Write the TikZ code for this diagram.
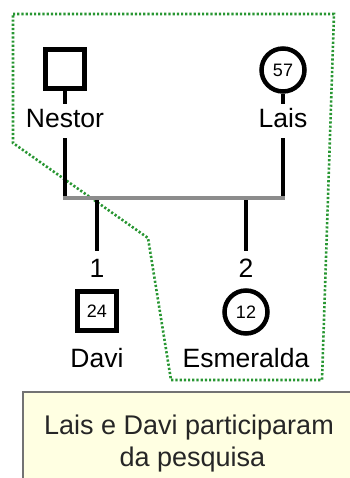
\documentclass[tikz,border=0pt]{standalone}
\usepackage{fontspec}
\setmainfont{Liberation Sans}
\usetikzlibrary{positioning}
\definecolor{dotgreen}{RGB}{40,150,50}
\definecolor{notefill}{RGB}{255,255,226}

\begin{document}
\begin{tikzpicture}[x=1pt, y=-1pt,
    every node/.style={font=\fontsize{26.5}{29}\selectfont},
    male/.style={draw, rectangle, line width=4.5pt, minimum size=39pt, inner sep=0pt, font=\fontsize{18}{20}\selectfont},
    female/.style={draw, circle, line width=4.5pt, minimum size=43pt, inner sep=0pt, font=\fontsize{18}{20}\selectfont},
    pname/.style={text height=19pt, text depth=5pt, inner sep=5pt},
    nr/.style={text height=19pt, text depth=0pt, inner sep=7pt},
    link/.style={line width=4.5pt, black},
    sibship/.style={line width=4pt, black!45},
    group/.style={line width=2.6pt, dotgreen, dash pattern=on 2.2pt off 2pt},
    note/.style={draw=black!55, line width=1.5pt, fill=notefill},
    notetext/.style={anchor=base, text=black!85, font=\fontsize{27}{30}\selectfont}
  ]
    % feste Bildgroesse wie Vorlage
    \useasboundingbox (0,0) rectangle (349,478);

    % Gruppe (gepunktet)
    \draw[group] (13,14) -- (334,14) -- (322,380) -- (171,380) -- (148,238) -- (13,143) -- cycle;

    % Eltern
    \node[male] (nestor) at (65,69) {};
    \node[female] (lais) at (283,70) {57};
    \node[pname] (nestorname) at (65,121) {Nestor};
    \node[pname] (laisname) at (283,121) {Lais};

    % Geschwisterlinie
    \coordinate (bl) at (63,198);
    \coordinate (br) at (285,198);
    \coordinate (c1) at (97,198);
    \coordinate (c2) at (246,198);

    % Kinder
    \node[nr] (nr1) at (97,267.5) {1};
    \node[nr] (nr2) at (246,267.5) {2};
    \node[male] (davi) at (97,311) {24};
    \node[female] (esme) at (246,312) {12};
    \node[pname] (daviname) at (97,360) {Davi};
    \node[pname] (esmename) at (246,360) {Esmeralda};

    % Linien
    \draw[link] (nestor.south) -- (nestorname.north);
    \draw[link] (lais.south) -- (laisname.north);
    \draw[link] (nestorname.south) -- (nestorname.south |- bl);
    \draw[link] (laisname.south) -- (laisname.south |- br);
    \draw[link] (c1) -- (nr1.north);
    \draw[link] (c2) -- (nr2.north);
    \draw[sibship] (bl) -- (br);

    % Hinweis
    \draw[note] (23,392) rectangle (353,481);
    \node[notetext] (msg) at (189,434) {Lais e Davi participaram};
    \node[notetext] (msg2) at (192.5,466) {da pesquisa};
\end{tikzpicture}
\end{document}
